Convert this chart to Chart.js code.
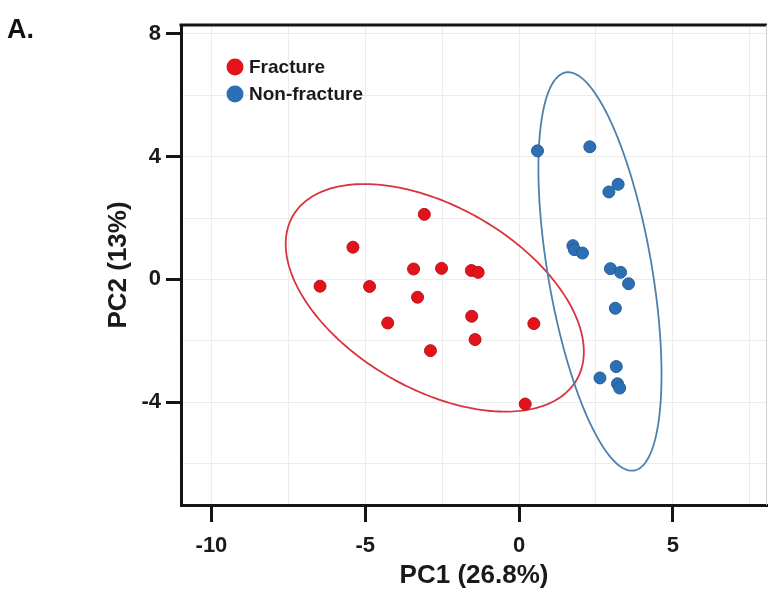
<!DOCTYPE html>
<html><head><meta charset="utf-8">
<script src="https://cdn.jsdelivr.net/npm/chart.js@4.4.1/dist/chart.umd.min.js"></script>
<style>html,body{margin:0;padding:0;background:#fff}#wrap{width:768px;height:594px;position:relative}</style>
</head><body><div id="wrap"><canvas id="c" width="768" height="594"></canvas></div>
<script>
const groupNames = ['Fracture', 'Non-fracture'];
const fractureX = [-3.08, -5.40, -3.43, -2.52, -1.55, -1.33, -6.47, -4.86, -3.30, -4.27, -1.54, 0.48, -1.43, -2.88, 0.20];
const fractureY = [2.12, 1.05, 0.34, 0.36, 0.29, 0.23, -0.22, -0.23, -0.58, -1.42, -1.20, -1.44, -1.96, -2.32, -4.06];
const nonFractureX = [0.60, 2.30, 3.22, 2.92, 1.75, 1.80, 2.06, 2.97, 3.30, 3.56, 3.13, 3.16, 2.63, 3.20, 3.27];
const nonFractureY = [4.19, 4.32, 3.10, 2.85, 1.10, 0.97, 0.86, 0.35, 0.23, -0.14, -0.94, -2.84, -3.21, -3.40, -3.54];
// ellipse: [centerX, centerY, semiMajor, semiMinor, angleDeg]
const fractureEllipse = [-2.74, -0.60, 5.33, 2.97, -30.1];
const nonFractureEllipse = [2.63, 0.26, 6.58, 1.69, -80.3];
const xTickValues = [-10, -7.5, -5, -2.5, 0, 2.5, 5, 7.5];
const xTickLabels = ['-10', '', '-5', '', '0', '', '5', ''];
const yTickValues = [-6, -4, -2, 0, 2, 4, 6, 8];
const yTickLabels = ['', '-4', '', '0', '', '4', '', '8'];
const xTitle = 'PC1 (26.8%)';
const yTitle = 'PC2 (13%)';
const panelLabel = 'A.';

const RED = '#e3121b', RED_EDGE = '#b8141b', BLUE = '#2b6fb4', BLUE_EDGE = '#275d94';
const RED_ELL = '#d8343f', BLUE_ELL = '#4d80ad';
const FONT = '"Liberation Sans", Arial, Helvetica, sans-serif';

const toPts = (xs, ys) => xs.map((x, i) => ({x: x, y: ys[i]}));

const ellipsePlugin = {
  id: 'ellipses',
  beforeDatasetsDraw(chart) {
    const {ctx, chartArea, scales: {x, y}} = chart;
    const list = [[fractureEllipse, RED_ELL], [nonFractureEllipse, BLUE_ELL]];
    ctx.save();
    ctx.beginPath();
    ctx.rect(chartArea.left, chartArea.top, chartArea.right - chartArea.left, chartArea.bottom - chartArea.top);
    ctx.clip();
    list.forEach(([e, col]) => {
      const [cx, cy, a, b, deg] = e;
      const th = deg * Math.PI / 180;
      ctx.beginPath();
      for (let i = 0; i <= 240; i++) {
        const t = i / 240 * 2 * Math.PI;
        const dx = a * Math.cos(t) * Math.cos(th) - b * Math.sin(t) * Math.sin(th);
        const dy = a * Math.cos(t) * Math.sin(th) + b * Math.sin(t) * Math.cos(th);
        const px = x.getPixelForValue(cx + dx), py = y.getPixelForValue(cy + dy);
        if (i === 0) ctx.moveTo(px, py); else ctx.lineTo(px, py);
      }
      ctx.closePath();
      ctx.strokeStyle = col;
      ctx.lineWidth = 1.8;
      ctx.stroke();
    });
    ctx.restore();
  }
};

const framePlugin = {
  id: 'frame',
  afterDraw(chart) {
    const {ctx, chartArea} = chart;
    ctx.save();
    ctx.strokeStyle = '#151515';
    ctx.lineWidth = 3;
    ctx.beginPath();
    ctx.moveTo(chartArea.left - 1.5, chartArea.top);
    ctx.lineTo(chartArea.right, chartArea.top);
    ctx.stroke();
    ctx.strokeStyle = '#d0d0d0';
    ctx.lineWidth = 1;
    ctx.beginPath();
    ctx.moveTo(chartArea.right - 0.5, chartArea.top);
    ctx.lineTo(chartArea.right - 0.5, chartArea.bottom);
    ctx.stroke();
    ctx.fillStyle = '#111';
    ctx.font = 'bold 27px ' + FONT;
    ctx.textAlign = 'left';
    ctx.textBaseline = 'alphabetic';
    ctx.fillText(panelLabel, 7, 38);
    const cols = [RED, BLUE];
    const lx = 235, ly = [67, 94];
    groupNames.forEach((name, i) => {
      ctx.beginPath();
      ctx.arc(lx, ly[i], 8.5, 0, 2 * Math.PI);
      ctx.fillStyle = cols[i];
      ctx.fill();
      ctx.fillStyle = '#1a1a1a';
      ctx.font = 'bold 19px ' + FONT;
      ctx.textBaseline = 'middle';
      ctx.fillText(name, 249, ly[i] + 1);
    });
    ctx.restore();
  }
};

const gridColor = '#ececec';
new Chart(document.getElementById('c'), {
  type: 'scatter',
  data: {
    datasets: [
      {label: groupNames[0], data: toPts(fractureX, fractureY), backgroundColor: RED, borderColor: RED_EDGE, borderWidth: 1, pointRadius: 6},
      {label: groupNames[1], data: toPts(nonFractureX, nonFractureY), backgroundColor: BLUE, borderColor: BLUE_EDGE, borderWidth: 1, pointRadius: 6}
    ]
  },
  options: {
    responsive: false,
    animation: false,
    devicePixelRatio: 1,
    layout: {autoPadding: false, padding: {left: 0, right: 1, top: 25, bottom: 0}},
    plugins: {legend: {display: false}, tooltip: {enabled: false}},
    scales: {
      x: {
        type: 'linear', min: -10.99, max: 8.06,
        afterBuildTicks: s => { s.ticks = xTickValues.map(v => ({value: v})); },
        afterFit: s => { s.height = 89; s.paddingLeft = 0; s.paddingRight = 0; },
        border: {display: true, color: '#151515', width: 3},
        grid: {
          color: gridColor, lineWidth: 1, drawTicks: true, tickLength: 17, tickWidth: 3,
          tickColor: c => (xTickLabels[xTickValues.indexOf(c.tick ? c.tick.value : NaN)] ? '#151515' : 'rgba(0,0,0,0)')
        },
        ticks: {
          padding: 11, color: '#1a1a1a', font: {family: FONT, size: 22, weight: 'bold'}, maxRotation: 0, autoSkip: false,
          callback: v => { const i = xTickValues.indexOf(v); return i >= 0 ? xTickLabels[i] : ''; }
        },
        title: {display: true, text: xTitle, color: '#1a1a1a', font: {family: FONT, size: 26, weight: 'bold'}, padding: {top: 0, bottom: 3}}
      },
      y: {
        type: 'linear', min: -7.35, max: 8.29,
        afterBuildTicks: s => { s.ticks = yTickValues.map(v => ({value: v})); },
        afterFit: s => { s.width = 181; s.paddingTop = 0; s.paddingBottom = 0; },
        border: {display: true, color: '#151515', width: 3},
        grid: {
          color: gridColor, lineWidth: 1, drawTicks: true, tickLength: 15, tickWidth: 3,
          tickColor: c => (yTickLabels[yTickValues.indexOf(c.tick ? c.tick.value : NaN)] ? '#151515' : 'rgba(0,0,0,0)')
        },
        ticks: {
          padding: 5, color: '#1a1a1a', font: {family: FONT, size: 22, weight: 'bold'}, autoSkip: false,
          callback: v => { const i = yTickValues.indexOf(v); return i >= 0 ? yTickLabels[i] : ''; }
        },
        title: {display: true, text: yTitle, color: '#1a1a1a', font: {family: FONT, size: 26, weight: 'bold'}, padding: {top: 103, bottom: 0}}
      }
    }
  },
  plugins: [ellipsePlugin, framePlugin]
});
</script></body></html>
